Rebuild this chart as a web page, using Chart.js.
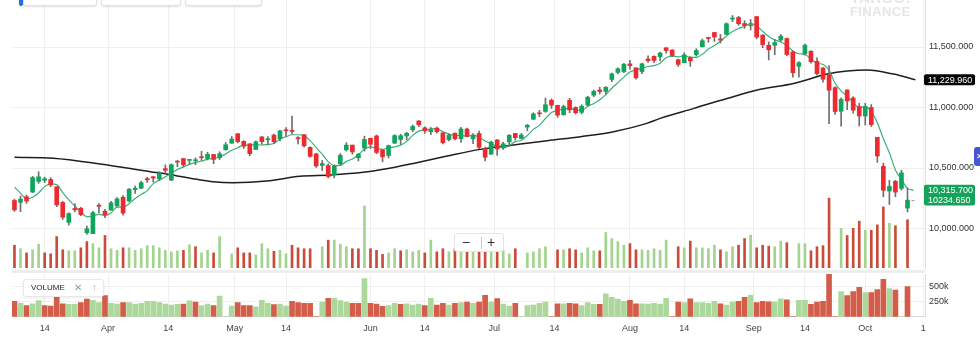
<!DOCTYPE html>
<html lang="en">
<head>
<meta charset="utf-8">
<script src="https://cdn.jsdelivr.net/npm/chart.js@4.4.1/dist/chart.umd.min.js"></script>
<style>
  html, body { margin: 0; padding: 0; background: #fff; }
  #frame { position: relative; width: 980px; height: 341px; overflow: hidden; font-family: "Liberation Sans", Arial, sans-serif; }
  #frame canvas { position: absolute; left: 0; }
  #priceCanvas { top: -10px; }
  #volumeCanvas { top: 264px; }
  .split { position: absolute; left: 12px; top: 270px; width: 913px; height: 3px; background: #ededed; }
  .tool { position: absolute; top: -20px; height: 24px; background: #fff; border: 1px solid #e1e1e1; border-radius: 3px; box-shadow: 0 1px 2px rgba(0,0,0,.12); }
  .brand { position: absolute; left: 850px; color: #e6e6e6; font-weight: bold; letter-spacing: .4px; }
  .zoomer { position: absolute; left: 454px; top: 233px; width: 48px; height: 17px; background: #fff; border: 1px solid #e4e4e4; border-radius: 3px; color: #333; font-size: 14px; }
  .zoomer span { position: absolute; top: -1px; line-height: 18px; }
  .zoomer i { position: absolute; left: 26px; top: 3px; width: 1px; height: 12px; background: #ccc; }
  .study { position: absolute; left: 23px; top: 279px; width: 79px; height: 16px; background: #fff; border: 1px solid #e9e9e9; border-radius: 3px; box-shadow: 0 1px 3px rgba(0,0,0,.08); font-size: 8px; color: #222; line-height: 16px; }
  .study span { position: absolute; }
  .side { position: absolute; left: 974px; top: 147px; width: 12px; height: 19px; background: #4657cf; border-radius: 3px; color: #fff; font-size: 8px; line-height: 19px; padding-left: 2px; box-sizing: border-box; }
</style>
</head>
<body>
<div id="frame">
  <canvas id="priceCanvas" width="980" height="288"></canvas>
  <canvas id="volumeCanvas" width="980" height="77"></canvas>
  <div class="split"></div>
  <div class="tool" style="left:19px;width:2px;background:#1f6fe5;border-color:#1f6fe5"></div>
  <div class="tool" style="left:23px;width:72px"></div>
  <div class="tool" style="left:101px;width:78px"></div>
  <div class="tool" style="left:185px;width:75px"></div>
  <div class="brand" style="top:-11px;font-size:15px">YAHOO!</div>
  <div class="brand" style="top:4px;font-size:13px">FINANCE</div>
  <div class="zoomer"><span style="left:7px">−</span><i></i><span style="left:32px">+</span></div>
  <div class="study"><span style="left:7px">VOLUME</span><span style="left:50px;color:#999;font-size:10px">✕</span><span style="left:68px;color:#aaa;font-size:10px">↑</span></div>
  <div class="side">✕</div>
</div>
<script>
// daily candles, Mar 7 .. Oct 11 (one slot per trading day)
const open = [10232,10216,10262,10301,10389,10398,10405,10345,10215,10051,
  10165,10167,9965,9958,10190,10143,10152,10186,10258,10228,
  10322,10333,10412,10428,10410,10495,10400,10557,10578,10563,
  10560,10592,10578,10612,10586,10651,10705,10783,10720,10700,
  10653,10757,10733,10772,10741,10813,10812,10751,10775,10671,
  10616,10521,10521,10445,10535,10650,10689,10585,10665,10745,
  10765,10650,10603,10706,10736,10765,10816,10888,10832,10800,
  10830,10790,10734,10788,10742,10822,10742,10785,10660,10614,
  10732,10668,10716,10786,10744,10838,10903,10956,10968,11060,
  11018,10940,11060,11000,10960,11020,11102,11145,11133,11232,
  11290,11297,11360,11328,11297,11401,11423,11419,11493,11474,
  11395,11370,11412,11437,11502,11576,11620,11566,11605,11731,
  11744,11694,11675,11751,11598,11514,11514,11558,11570,11459,
  11340,11443,11464,11381,11326,11271,11164,10969,11145,11079,
  11008,10930,11000,10754,10514,10310,10390,10331,10169];

const high = [10243,10268,10277,10431,10469,10425,10420,10346,10224,10130,
  10205,10175,10020,10143,10207,10158,10224,10256,10272,10331,
  10350,10390,10424,10429,10470,10526,10534,10562,10580,10572,
  10583,10638,10630,10612,10634,10711,10760,10785,10726,10701,
  10725,10759,10759,10780,10812,10835,10929,10760,10777,10674,
  10622,10562,10535,10525,10620,10710,10690,10620,10763,10748,
  10773,10651,10690,10775,10779,10795,10856,10893,10840,10835,
  10838,10792,10781,10789,10837,10831,10785,10806,10672,10723,
  10736,10713,10777,10786,10786,10860,10957,10976,11078,11071,
  11019,11020,11076,11006,11023,11093,11144,11168,11173,11284,
  11328,11366,11390,11328,11368,11427,11428,11459,11496,11479,
  11400,11453,11420,11486,11566,11581,11620,11604,11700,11760,
  11753,11717,11727,11752,11603,11542,11562,11604,11574,11469,
  11380,11524,11470,11411,11333,11346,11170,11080,11146,11089,
  11035,11035,11025,10754,10541,10399,10398,10482,10335];

const low = [10141,10139,10208,10296,10373,10380,10346,10180,10075,10028,
  10138,10106,9951,9958,10129,10090,10151,10182,10111,10220,
  10290,10330,10381,10384,10395,10457,10395,10510,10509,10534,
  10527,10562,10567,10536,10570,10647,10705,10707,10661,10601,
  10653,10698,10690,10701,10724,10762,10781,10700,10672,10589,
  10505,10479,10418,10418,10525,10640,10614,10558,10640,10661,
  10618,10551,10583,10701,10696,10733,10800,10842,10786,10776,
  10787,10699,10724,10732,10711,10757,10701,10659,10558,10613,
  10604,10653,10677,10730,10742,10807,10902,10925,10960,10992,
  10918,10937,10956,10946,10946,11015,11090,11111,11108,11214,
  11278,11287,11317,11234,11280,11372,11370,11385,11448,11419,
  11340,11370,11340,11425,11500,11539,11546,11533,11603,11710,
  11679,11654,11640,11567,11494,11393,11436,11546,11427,11250,
  11250,11433,11366,11268,11210,10866,10943,10845,10983,10953,
  10847,10855,10843,10547,10262,10198,10262,10318,10138];

const close = [10154,10243,10227,10421,10427,10411,10360,10195,10094,10124,
  10155,10115,9998,10131,10184,10114,10212,10245,10128,10325,
  10332,10379,10402,10417,10459,10481,10528,10549,10526,10565,
  10564,10585,10614,10571,10618,10692,10739,10718,10680,10618,
  10716,10718,10742,10717,10807,10807,10802,10741,10683,10596,
  10517,10537,10430,10514,10605,10689,10633,10614,10736,10696,
  10629,10593,10685,10768,10767,10787,10843,10857,10808,10818,
  10800,10710,10772,10741,10822,10762,10769,10671,10589,10714,
  10657,10700,10770,10750,10773,10853,10947,10948,11023,11019,
  10937,11008,10980,10957,11010,11085,11134,11132,11167,11278,
  11320,11357,11346,11245,11361,11387,11389,11450,11471,11430,
  11356,11435,11385,11471,11552,11571,11583,11557,11692,11739,
  11692,11677,11681,11582,11520,11477,11537,11589,11438,11288,
  11370,11515,11378,11279,11234,11143,10967,11067,11054,10978,
  10930,11008,10858,10599,10316,10348,10301,10460,10234.65];

const volume = [254000,221000,182000,211000,264000,182000,173000,336000,211000,202000,
  202000,230000,288000,269000,230000,346000,221000,206000,230000,230000,
  206000,221000,250000,250000,230000,206000,192000,202000,206000,259000,
  240000,182000,206000,182000,336000,0,173000,230000,182000,182000,
  163000,269000,221000,197000,206000,173000,254000,230000,221000,221000,
  0,240000,302000,302000,264000,240000,221000,221000,624000,221000,
  206000,168000,182000,221000,202000,211000,192000,206000,182000,302000,
  192000,221000,192000,221000,230000,240000,221000,240000,350000,240000,
  298000,206000,173000,221000,0,182000,192000,221000,240000,0,
  211000,211000,221000,211000,182000,230000,202000,202000,374000,317000,
  288000,254000,269000,211000,211000,206000,221000,206000,302000,0,
  240000,230000,293000,230000,230000,221000,254000,211000,192000,240000,
  254000,317000,350000,230000,254000,245000,240000,293000,278000,0,
  269000,269000,202000,240000,250000,697000,0,413000,346000,413000,
  480000,394000,394000,446000,614000,461000,437000,0,494000];

// short moving average, one value per slot (last slot runs one past the candles)
const fastMa = [10342,10292,10246,10259,10294,10346,10369,10363,10297,10237,
  10186,10137,10097,10105,10117,10108,10128,10177,10177,10205,
  10248,10282,10313,10371,10398,10428,10457,10487,10509,10530,
  10546,10558,10571,10580,10590,10616,10647,10668,10689,10689,
  10694,10690,10695,10702,10740,10758,10775,10775,10768,10726,
  10668,10615,10553,10519,10521,10555,10574,10611,10655,10674,
  10662,10654,10668,10674,10689,10720,10770,10805,10813,10823,
  10825,10799,10782,10768,10769,10761,10773,10753,10723,10701,
  10680,10666,10686,10718,10730,10769,10819,10854,10909,10958,
  10975,10987,10993,10980,10978,11008,11033,11064,11106,11159,
  11206,11251,11294,11309,11326,11339,11346,11366,11412,11425,
  11419,11428,11415,11415,11440,11483,11512,11547,11591,11628,
  11653,11671,11696,11674,11630,11587,11559,11541,11512,11466,
  11444,11440,11398,11366,11355,11310,11200,11138,11093,11042,
  10999,11007,10966,10875,10742,10626,10484,10405,10332,10315.7];

// long moving average, read at these slot positions
const slowAt = [0, 6.4, 14.2, 22.5, 25.2, 30.8, 32.9, 36.2, 41.8, 47.3,
  52.3, 57.8, 61.4, 66.1, 71.7, 77.2, 82.7, 88.3, 93.8, 99.3,
  104.8, 107, 112.6, 118.1, 123.6, 129.1, 134.7, 138, 141.3, 145.7, 149.3];
const slowMa = [10588, 10580, 10533, 10470, 10450, 10401, 10387, 10379, 10392, 10431,
  10442, 10464, 10491, 10538, 10599, 10654, 10690, 10726, 10759, 10800,
  10869, 10910, 10993, 11075, 11150, 11199, 11276, 11301, 11310, 11276, 11229.96];

// date labels sit at calendar positions between trading-day slots
const tickAt = [5, 15.5, 25.5, 36.5, 45, 59, 68, 79.5, 89.5, 102, 111, 122.5, 131, 141, 150.6];
const tickText = ['14', 'Apr', '14', 'May', '14', 'Jun', '14', 'Jul', '14', 'Aug', '14', 'Sep', '14', 'Oct', '1'];
const priceTicks = [10000, 10500, 11000, 11500];
const volumeTicks = [250000, 500000];

const FONT = '"Liberation Sans", Arial, sans-serif';
const GRID = '#efefef';
const UP = '#0ea65d', DOWN = '#ec2a30', WICK = '#6f6f6f';
const VOL_UP = '#a3d48f', VOL_DOWN = '#c94b3a';
const PANEL_UP = '#acd89c', PANEL_DOWN = '#d35d49';
const X_MIN = -0.41, X_MAX = 150.9;

const last = close.length - 1;
const volumeUp = i => i === 0 ? close[0] >= open[0] : close[i] >= close[i - 1];
const fmt3 = v => v.toLocaleString('en-US', { minimumFractionDigits: 3, maximumFractionDigits: 3 });

function timeAxis(withLabels) {
  return {
    type: 'linear', min: X_MIN, max: X_MAX, offset: false,
    afterBuildTicks: s => { s.ticks = tickAt.map(v => ({ value: v })); },
    ticks: {
      display: withLabels, autoSkip: false, maxRotation: 0, padding: 6, color: '#444',
      font: { size: 9, family: FONT }, callback: (v, i) => tickText[i]
    },
    grid: { color: GRID, offset: false, drawTicks: false },
    border: { display: withLabels, color: '#d9d9d9' }
  };
}

function rightAxis(min, max, ticks, label) {
  return {
    position: 'right', min, max,
    afterBuildTicks: s => { s.ticks = ticks.map(v => ({ value: v })); },
    afterFit: s => { s.width = 55; },
    ticks: { padding: 4, color: '#333', font: { size: 9, family: FONT }, callback: label },
    grid: { color: GRID, drawTicks: false },
    border: { display: true, color: '#e0e0e0' }
  };
}

function tag(ctx, x, y, w, h, color) {
  ctx.fillStyle = color;
  ctx.beginPath();
  ctx.roundRect(x, y, w, h, 2);
  ctx.fill();
}

// value boxes on the price axis for the two averages and the last close
const lastValueTags = {
  id: 'lastValueTags',
  afterDraw(chart) {
    const { ctx, chartArea, scales } = chart;
    const y = scales.y;
    const x0 = chartArea.right - 1;
    const slowLast = slowMa[slowMa.length - 1];
    const fastLast = fastMa[fastMa.length - 1];
    const ySlow = y.getPixelForValue(slowLast);
    const yFast = y.getPixelForValue(fastLast);
    const yClose = y.getPixelForValue(close[last]);
    ctx.save();
    const xc = scales.x.getPixelForValue(last);
    ctx.strokeStyle = '#9a9a9a';
    ctx.lineWidth = 1;
    ctx.beginPath();
    ctx.moveTo(xc + 4, Math.round(yClose) + 0.5);
    ctx.lineTo(xc + 7, Math.round(yClose) + 0.5);
    ctx.stroke();
    ctx.font = '9px ' + FONT;
    ctx.textBaseline = 'middle';
    ctx.textAlign = 'left';
    tag(ctx, x0, ySlow - 5.5, 51, 11, '#050505');
    ctx.fillStyle = '#fff';
    ctx.fillText(fmt3(slowLast), x0 + 4, ySlow + 0.5);
    tag(ctx, x0, yFast - 5.5, 51, yClose - yFast + 11, '#15a35b');
    ctx.fillStyle = '#fff';
    ctx.fillText(fmt3(fastLast), x0 + 4, yFast + 0.5);
    ctx.fillText(close[last].toFixed(3), x0 + 4, yClose + 0.5);
    ctx.restore();
  }
};

const slots = close.map((c, i) => i);

new Chart(document.getElementById('priceCanvas'), {
  type: 'bar',
  data: {
    datasets: [
      {
        type: 'bar', yAxisID: 'yVol', order: 6, grouped: false, barThickness: 2,
        data: slots.map(i => ({ x: i, y: volume[i] })),
        backgroundColor: slots.map(i => volumeUp(i) ? VOL_UP : VOL_DOWN)
      },
      {
        type: 'line', yAxisID: 'y', order: 5,
        data: slowAt.map((x, k) => ({ x, y: slowMa[k] })),
        borderColor: '#1f1f1f', borderWidth: 1.5, pointRadius: 0, cubicInterpolationMode: 'monotone'
      },
      {
        type: 'line', yAxisID: 'y', order: 4,
        data: fastMa.map((v, i) => ({ x: i, y: v })),
        borderColor: '#3daf77', borderWidth: 1.2, pointRadius: 0, cubicInterpolationMode: 'monotone'
      },
      {
        type: 'bar', yAxisID: 'y', order: 3, grouped: false, barThickness: 1,
        data: slots.map(i => ({ x: i, y: [low[i], high[i]] })),
        backgroundColor: WICK
      },
      {
        type: 'bar', yAxisID: 'y', order: 2, grouped: false, barThickness: 4, minBarLength: 1,
        data: slots.map(i => ({ x: i, y: [open[i], close[i]] })),
        backgroundColor: slots.map(i => close[i] >= open[i] ? UP : DOWN)
      }
    ]
  },
  options: {
    responsive: false,
    animation: false,
    events: [],
    layout: { padding: { left: 12, right: 0, top: 10, bottom: 10 } },
    plugins: { legend: { display: false }, tooltip: { enabled: false } },
    scales: {
      x: timeAxis(false),
      y: rightAxis(9673.7, 11888.4, priceTicks, v => fmt3(v)),
      yVol: { display: false, min: 40000, max: 2560000 }
    }
  },
  plugins: [lastValueTags]
});

new Chart(document.getElementById('volumeCanvas'), {
  type: 'bar',
  data: {
    datasets: [{
      grouped: false, barThickness: 5,
      data: slots.map(i => ({ x: i, y: volume[i] })),
      backgroundColor: slots.map(i => volumeUp(i) ? PANEL_UP : PANEL_DOWN)
    }]
  },
  options: {
    responsive: false,
    animation: false,
    events: [],
    layout: { padding: { left: 12, right: 0, top: 10, bottom: 1.5 } },
    plugins: { legend: { display: false }, tooltip: { enabled: false } },
    scales: {
      x: timeAxis(true),
      y: rightAxis(0, 700000, volumeTicks, v => (v / 1000) + 'k')
    }
  }
});
</script>
</body>
</html>
